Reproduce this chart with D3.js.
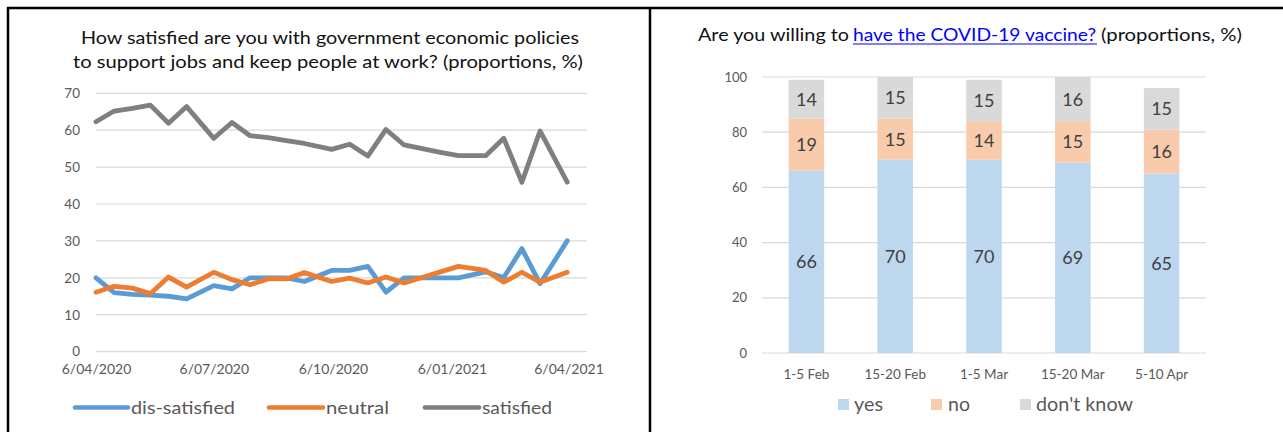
<!DOCTYPE html>
<html>
<head>
<meta charset="utf-8">
<script src="https://cdn.jsdelivr.net/npm/d3@7"></script>
<style>
  html, body { margin: 0; padding: 0; background: #fff; }
  svg { display: block; font-family: Lato, "Liberation Sans", sans-serif; }
</style>
</head>
<body>
<svg id="chart" width="1283" height="432"></svg>
<script>
// ---------- Left chart data ----------
const surveyDates = ["2020-04-06","2020-04-20","2020-05-04","2020-05-18","2020-06-01","2020-06-15",
  "2020-07-06","2020-07-20","2020-08-03","2020-08-17","2020-08-31","2020-09-14","2020-10-05",
  "2020-10-19","2020-11-02","2020-11-16","2020-11-30","2020-12-14","2020-12-28","2021-01-11",
  "2021-02-01","2021-02-15","2021-03-01","2021-03-15","2021-04-05"];
const dissatisfied = [20, 16, 15.5, 15.3, 15, 14.3, 17.9, 17, 20, 20, 20, 19, 22, 22, 23.1, 16.1,
  20, 20, 20, 20, 21.6, 20.1, 27.9, 18.4, 30];
const neutral = [16.1, 17.7, 17.2, 15.7, 20.2, 17.5, 21.5, 19.5, 18.1, 19.7, 19.7, 21.4, 19, 19.9,
  18.6, 20.2, 18.6, 20.1, 21.6, 23.1, 22, 18.8, 21.5, 18.8, 21.5];
const satisfied = [62.3, 65.2, 65.9, 66.8, 61.9, 66.4, 57.8, 62.1, 58.5, 58, 57.2, 56.4, 54.8, 56.2,
  53, 60.2, 56, 55, 54, 53.1, 53.1, 57.8, 45.9, 59.8, 45.9];
const leftTickDates = ["2020-04-06","2020-07-06","2020-10-06","2021-01-06","2021-04-06"];
const leftYTicks = [0, 10, 20, 30, 40, 50, 60, 70];
const leftSeriesNames = ["dis-satisfied", "neutral", "satisfied"];
const leftTitle = ["How satisfied are you with government economic policies",
  "to support jobs and keep people at work? (proportions, %)"];

// ---------- Right chart data ----------
const waves = ["1-5 Feb", "15-20 Feb", "1-5 Mar", "15-20 Mar", "5-10 Apr"];
const yesVals = [66, 70, 70, 69, 65];
const noVals = [19, 15, 14, 15, 16];
const dontKnowVals = [14, 15, 15, 16, 15];
const rightYTicks = [0, 20, 40, 60, 80, 100];
const rightSeriesNames = ["yes", "no", "don't know"];

const svg = d3.select("#chart");
const parse = d3.utcParse("%Y-%m-%d");

// ---------- Frame ----------
svg.append("line").attr("x1", 7).attr("x2", 1283).attr("y1", 8).attr("y2", 8)
  .attr("stroke", "#000").attr("stroke-width", 2.5);
svg.append("line").attr("x1", 8).attr("x2", 8).attr("y1", 7).attr("y2", 432)
  .attr("stroke", "#000").attr("stroke-width", 2.5);
svg.append("line").attr("x1", 650).attr("x2", 650).attr("y1", 7).attr("y2", 432)
  .attr("stroke", "#000").attr("stroke-width", 2.5);

// ---------- Left chart ----------
const L = svg.append("g");
L.append("text").attr("x", 330).attr("y", 44).attr("text-anchor", "middle")
  .attr("font-size", 18).attr("fill", "#111").attr("textLength", 498)
  .attr("lengthAdjust", "spacingAndGlyphs").text(leftTitle[0]);
L.append("text").attr("x", 328).attr("y", 68).attr("text-anchor", "middle")
  .attr("font-size", 18).attr("fill", "#111").attr("textLength", 510)
  .attr("lengthAdjust", "spacingAndGlyphs").text(leftTitle[1]);

const xL = d3.scaleUtc().domain([parse("2020-04-06"), parse("2021-04-06")]).range([96, 568.5]);
const yL = d3.scaleLinear().domain([0, 70]).range([351.6, 93.3]);

// gridlines
L.append("g").selectAll("line").data(leftYTicks).join("line")
  .attr("x1", 96).attr("x2", 587).attr("y1", d => yL(d)).attr("y2", d => yL(d))
  .attr("stroke", "#D9D9D9").attr("stroke-width", 1.2);

// y axis labels
const yAxisL = L.append("g").attr("transform", "translate(88,0)")
  .call(d3.axisLeft(yL).tickValues(leftYTicks).tickSize(0).tickPadding(8));
yAxisL.select(".domain").remove();
yAxisL.selectAll("text").attr("font-size", 13.5).attr("fill", "#595959")
  .attr("font-family", "Lato, sans-serif");

// x axis labels
const xAxisL = L.append("g").attr("transform", "translate(0,362)")
  .call(d3.axisBottom(xL).tickValues(leftTickDates.map(parse))
    .tickFormat(d3.utcFormat("%-d/%m/%Y")).tickSize(0).tickPadding(2));
xAxisL.select(".domain").remove();
xAxisL.selectAll("text").attr("font-size", 14).attr("fill", "#595959")
  .attr("font-family", "Lato, sans-serif");

const leftColors = ["#5B9BD5", "#ED7D31", "#7F7F7F"];
const leftSeries = [dissatisfied, neutral, satisfied];
const line = d3.line().x((d, i) => xL(parse(surveyDates[i]))).y(d => yL(d));
leftSeries.forEach((s, k) => {
  L.append("path").datum(s).attr("d", line).attr("fill", "none")
    .attr("stroke", leftColors[k]).attr("stroke-width", 4.8)
    .attr("stroke-linejoin", "round").attr("stroke-linecap", "round");
});

// legend
const legL = [
  {x1: 75, x2: 128, tx: 131, tl: 104},
  {x1: 269, x2: 323, tx: 326, tl: 63},
  {x1: 425, x2: 479, tx: 482, tl: 70}
];
legL.forEach((p, k) => {
  L.append("line").attr("x1", p.x1).attr("x2", p.x2).attr("y1", 407.5).attr("y2", 407.5)
    .attr("stroke", leftColors[k]).attr("stroke-width", 4.6).attr("stroke-linecap", "round");
  L.append("text").attr("x", p.tx).attr("y", 414).attr("font-size", 18)
    .attr("fill", "#595959").attr("textLength", p.tl).attr("lengthAdjust", "spacingAndGlyphs")
    .text(leftSeriesNames[k]);
});

// ---------- Right chart ----------
const R = svg.append("g");
R.append("text").attr("x", 698).attr("y", 41).attr("font-size", 17.5).attr("fill", "#111")
  .attr("textLength", 151).attr("lengthAdjust", "spacingAndGlyphs").text("Are you willing to");
R.append("text").attr("x", 853).attr("y", 41).attr("font-size", 17.5).attr("fill", "#0000FF")
  .attr("textLength", 243).attr("lengthAdjust", "spacingAndGlyphs").text("have the COVID-19 vaccine?");
R.append("line").attr("x1", 853).attr("x2", 1097).attr("y1", 44).attr("y2", 44)
  .attr("stroke", "#0000FF").attr("stroke-width", 1.2);
R.append("text").attr("x", 1101).attr("y", 41).attr("font-size", 17.5).attr("fill", "#111")
  .attr("textLength", 141).attr("lengthAdjust", "spacingAndGlyphs").text("(proportions, %)");

const xR = d3.scaleBand().domain(waves).range([762, 1206]).paddingInner(0.6).paddingOuter(0.3);
const yR = d3.scaleLinear().domain([0, 100]).range([353, 77]);

R.append("g").selectAll("line").data(rightYTicks).join("line")
  .attr("x1", 762).attr("x2", 1206).attr("y1", d => yR(d)).attr("y2", d => yR(d))
  .attr("stroke", "#D9D9D9").attr("stroke-width", 1.2);

const yAxisR = R.append("g").attr("transform", "translate(755,0)")
  .call(d3.axisLeft(yR).tickValues(rightYTicks).tickSize(0).tickPadding(8));
yAxisR.select(".domain").remove();
yAxisR.selectAll("text").attr("font-size", 13).attr("fill", "#595959")
  .attr("font-family", "Lato, sans-serif");

const xAxisR = R.append("g").attr("transform", "translate(0,367)")
  .call(d3.axisBottom(xR).tickSize(0).tickPadding(2));
xAxisR.select(".domain").remove();
xAxisR.selectAll("text").attr("font-size", 13.5).attr("fill", "#595959")
  .attr("font-family", "Lato, sans-serif");

const rightColors = ["#BDD7EE", "#F8CBAD", "#D9D9D9"];
const rows = waves.map((w, i) => ({wave: w, yes: yesVals[i], no: noVals[i], dk: dontKnowVals[i]}));
const stack = d3.stack().keys(["yes", "no", "dk"])(rows);
stack.forEach((layer, k) => {
  const g = R.append("g");
  g.selectAll("rect").data(layer).join("rect")
    .attr("x", d => xR(d.data.wave)).attr("width", xR.bandwidth())
    .attr("y", d => yR(d[1])).attr("height", d => yR(d[0]) - yR(d[1]))
    .attr("fill", rightColors[k]);
  g.selectAll("text").data(layer).join("text")
    .attr("x", d => xR(d.data.wave) + xR.bandwidth() / 2)
    .attr("y", d => (yR(d[0]) + yR(d[1])) / 2).attr("dy", "0.36em")
    .attr("text-anchor", "middle").attr("font-size", 18).attr("fill", "#404040")
    .text(d => d[1] - d[0]);
});

// legend
const legR = [
  {sx: 838, tx: 854, tl: 29},
  {sx: 931, tx: 948, tl: 22},
  {sx: 1020, tx: 1036, tl: 97}
];
legR.forEach((p, k) => {
  R.append("rect").attr("x", p.sx).attr("y", 399).attr("width", 11).attr("height", 11)
    .attr("fill", rightColors[k]);
  R.append("text").attr("x", p.tx).attr("y", 410.5).attr("font-size", 19)
    .attr("fill", "#595959").attr("textLength", p.tl).attr("lengthAdjust", "spacingAndGlyphs")
    .text(rightSeriesNames[k]);
});
</script>
</body>
</html>
